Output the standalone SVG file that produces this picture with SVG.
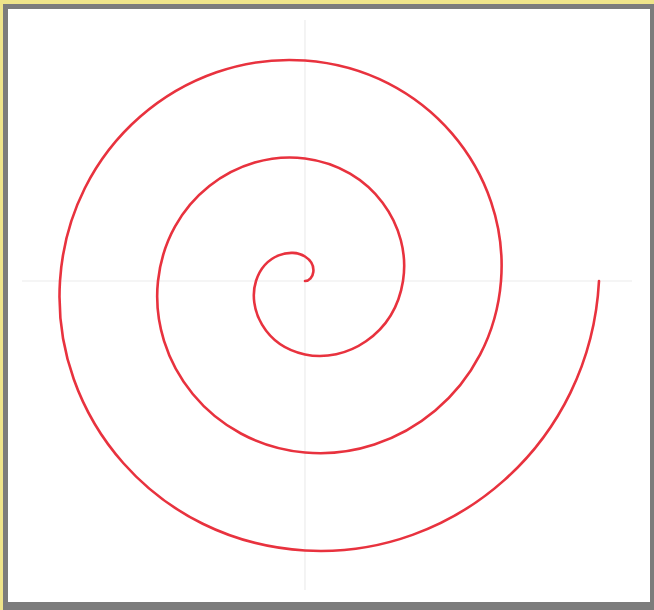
<svg xmlns="http://www.w3.org/2000/svg" width="654" height="610" viewBox="0 0 654 610">
  <style>
    .grid { stroke: #ececec; stroke-width: 1.2; fill: none; }
    .spiral { stroke: #e8323e; stroke-width: 2.6; fill: none; stroke-linecap: round; stroke-linejoin: round; }
  </style>
  <g id="frame">
    <rect x="0" y="0" width="654" height="610" fill="#efe48a"/>
    <rect x="3" y="4" width="651" height="606" fill="#7c7c7c"/>
    <rect x="8" y="9" width="642" height="593" fill="#ffffff"/>
  </g>
  <g id="axes">
    <line class="grid" x1="22" y1="281" x2="632" y2="281"/>
    <line class="grid" x1="305" y1="20" x2="305" y2="590"/>
  </g>
  <g id="spiral">
    <path class="spiral" d="M305,281 C313.62,281 318.53,265.12 305,256.5 C291.47,247.88 264.62,253.94 256,281 C247.38,308.06 264.41,345.88 305,354.5 C345.59,363.12 394.38,335.12 403,281 C411.62,226.88 372.65,167.12 305,158.5 C237.35,149.88 166.62,199.82 158,281 C149.38,362.18 210.29,443.88 305,452.5 C399.71,461.12 492.38,389.24 501,281 C509.62,172.76 426.77,69.12 305,60.5 C183.23,51.88 68.62,145.7 60,281 C51.38,416.3 156.17,541.88 305,550.5 C453.83,559.12 590.38,443.36 599,281"/>
  </g>
</svg>
